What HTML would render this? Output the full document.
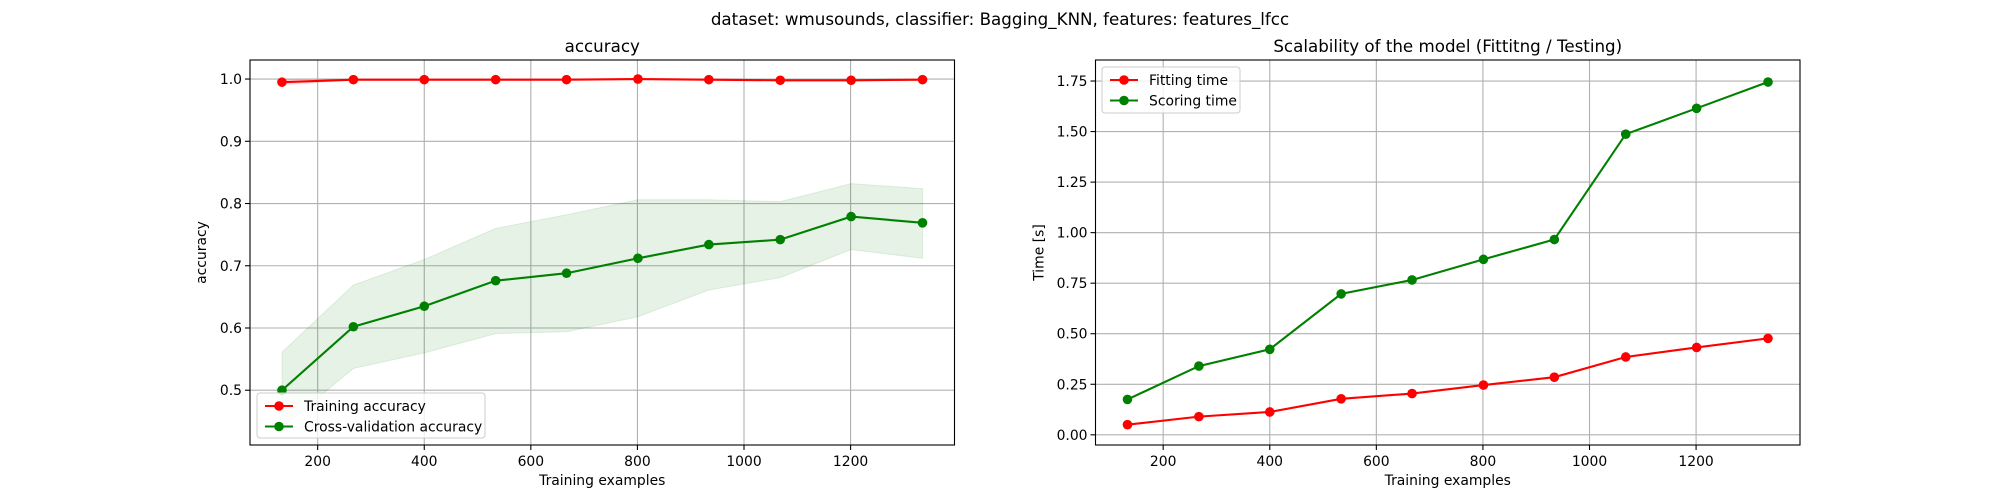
<!DOCTYPE html>
<html><head><meta charset="utf-8"><style>
html,body{margin:0;padding:0;background:#fff;}
svg{display:block;font-family:"DejaVu Sans","Liberation Sans",sans-serif;}
</style></head><body>
<svg id="fig" width="2000" height="500" xmlns="http://www.w3.org/2000/svg">
<rect width="2000" height="500" fill="#fff"/>
<text x="1000" y="25" font-size="16.7" text-anchor="middle">dataset: wmusounds, classifier: Bagging_KNN, features: features_lfcc</text>
</svg>
<script>
const trainSizes=[133,267,400,534,667,801,934,1068,1201,1335];
const trainAcc=[0.995,0.999,0.999,0.999,0.999,1.0,0.999,0.998,0.998,0.999];
const trainLo=[0.991,0.998,0.998,0.998,0.998,0.999,0.998,0.997,0.997,0.998];
const trainHi=[0.999,1.0,1.0,1.0,1.0,1.001,1.0,0.999,0.999,1.0];
const cvAcc=[0.50,0.602,0.635,0.676,0.688,0.712,0.734,0.742,0.779,0.769];
const cvLo=[0.44,0.535,0.56,0.591,0.594,0.618,0.661,0.681,0.726,0.712];
const cvHi=[0.561,0.669,0.71,0.76,0.782,0.806,0.806,0.803,0.832,0.824];
const fitTime=[0.05,0.09,0.113,0.178,0.204,0.246,0.285,0.385,0.432,0.477];
const scoreTime=[0.175,0.34,0.423,0.697,0.766,0.868,0.966,1.487,1.615,1.745];
const xTicks=[200,400,600,800,1000,1200];
const accTicks=[0.5,0.6,0.7,0.8,0.9,1.0];
const timeTicks=[0.00,0.25,0.50,0.75,1.00,1.25,1.50,1.75];

const NS="http://www.w3.org/2000/svg";
const svg=document.getElementById('fig');
function mk(tag,attrs,parent){const e=document.createElementNS(NS,tag);for(const k in attrs)e.setAttribute(k,attrs[k]);(parent||svg).appendChild(e);return e;}

function panel(o){
  const g=mk('g',{});
  
  
  const L=o.x0,R=o.x1,T=60,B=445;
  const sx=v=>L+(v-o.xmin)/(o.xmax-o.xmin)*(R-L);
  const sy=v=>B-(v-o.ymin)/(o.ymax-o.ymin)*(B-T);
  o.xticks.forEach(t=>{const x=sx(t);
    const l=mk('line',{x1:x,x2:x,y1:T,y2:B,stroke:'#b0b0b0','stroke-width':1.1},g);
    
    mk('line',{x1:x,x2:x,y1:B,y2:B+5,stroke:'#000','stroke-width':1.1},g);
    const tx=mk('text',{x:x,y:B+21,'font-size':13.9,'text-anchor':'middle'},g);tx.textContent=t;
    
  });
  o.yticks.forEach(t=>{const y=sy(t);
    const l=mk('line',{x1:L,x2:R,y1:y,y2:y,stroke:'#b0b0b0','stroke-width':1.1},g);
    
    mk('line',{x1:L-5,x2:L,y1:y,y2:y,stroke:'#000','stroke-width':1.1},g);
    const tx=mk('text',{x:L-8,y:y+5,'font-size':13.9,'text-anchor':'end'},g);tx.textContent=t.toFixed(o.dec);
    
  });
  const clip='c'+o.name;
  const cp=mk('clipPath',{id:clip},g);mk('rect',{x:L,y:T,width:R-L,height:B-T},cp);
  const dg=mk('g',{'clip-path':'url(#'+clip+')'},g);
  o.series.forEach(s=>{
    if(s.lo){
      let d='M'+trainSizes.map((x,i)=>sx(x)+','+sy(s.hi[i])).join('L');
      d+='L'+trainSizes.map((x,i)=>sx(x)+','+sy(s.lo[i])).reverse().join('L')+'Z';
      const b=mk('path',{d:d,fill:s.color,'fill-opacity':0.1,stroke:s.color,'stroke-opacity':0.1},dg);
      
    }
    const p=mk('polyline',{points:trainSizes.map((x,i)=>sx(x)+','+sy(s.vals[i])).join(' '),fill:'none',stroke:s.color,'stroke-width':2.1},dg);
    
    trainSizes.forEach((x,i)=>{const c=mk('circle',{cx:sx(x),cy:sy(s.vals[i]),r:4.8,fill:s.color},dg);
      });
  });
  const fr=mk('rect',{x:L,y:T,width:R-L,height:B-T,fill:'none',stroke:'#000','stroke-width':1.1},g);
  
  const ti=mk('text',{x:(L+R)/2,y:52,'font-size':16.7,'text-anchor':'middle'},g);ti.textContent=o.title;
  
  const xl=mk('text',{x:(L+R)/2,y:B+40,'font-size':13.9,'text-anchor':'middle'},g);xl.textContent='Training examples';
  
  const yx=L-o.ylabOff,yy=(T+B)/2;
  const yl=mk('text',{x:yx,y:yy,'font-size':13.9,'text-anchor':'middle',transform:'rotate(-90 '+yx+' '+yy+')'},g);yl.textContent=o.ylabel;
  
  const lg=mk('g',{},g);
  
  mk('rect',{x:o.leg[0],y:o.leg[1],width:o.leg[2],height:o.leg[3],rx:3,fill:'#fff','fill-opacity':0.8,stroke:'#ccc'},lg);
  o.series.forEach((s,i)=>{const y=o.leg[1]+13+i*20.5,x=o.leg[0]+8;
    mk('line',{x1:x,x2:x+28,y1:y,y2:y,stroke:s.color,'stroke-width':2.1},lg);
    mk('circle',{cx:x+14,cy:y,r:4.8,fill:s.color},lg);
    const t=mk('text',{x:x+39,y:y+5,'font-size':13.9},lg);t.textContent=s.label;
    
  });
}
panel({name:'accuracy-panel',x0:250,x1:954.5,xmin:73,xmax:1395,ymin:0.412,ymax:1.0306,xticks:xTicks,yticks:accTicks,dec:1,
  title:'accuracy',ylabel:'accuracy',ylabOff:44,leg:[257,393,228,45],
  series:[{key:'training-accuracy',label:'Training accuracy',color:'#ff0000',vals:trainAcc,lo:trainLo,hi:trainHi},
          {key:'cv-accuracy',label:'Cross-validation accuracy',color:'#008000',vals:cvAcc,lo:cvLo,hi:cvHi}]});
panel({name:'scalability-panel',x0:1095.5,x1:1800,xmin:73,xmax:1395,ymin:-0.0504,ymax:1.854,xticks:xTicks,yticks:timeTicks,dec:2,
  title:'Scalability of the model (Fittitng / Testing)',ylabel:'Time [s]',ylabOff:52,leg:[1102,67,138,46],
  series:[{key:'fitting-time',label:'Fitting time',color:'#ff0000',vals:fitTime},
          {key:'scoring-time',label:'Scoring time',color:'#008000',vals:scoreTime}]});
</script>
</body></html>
